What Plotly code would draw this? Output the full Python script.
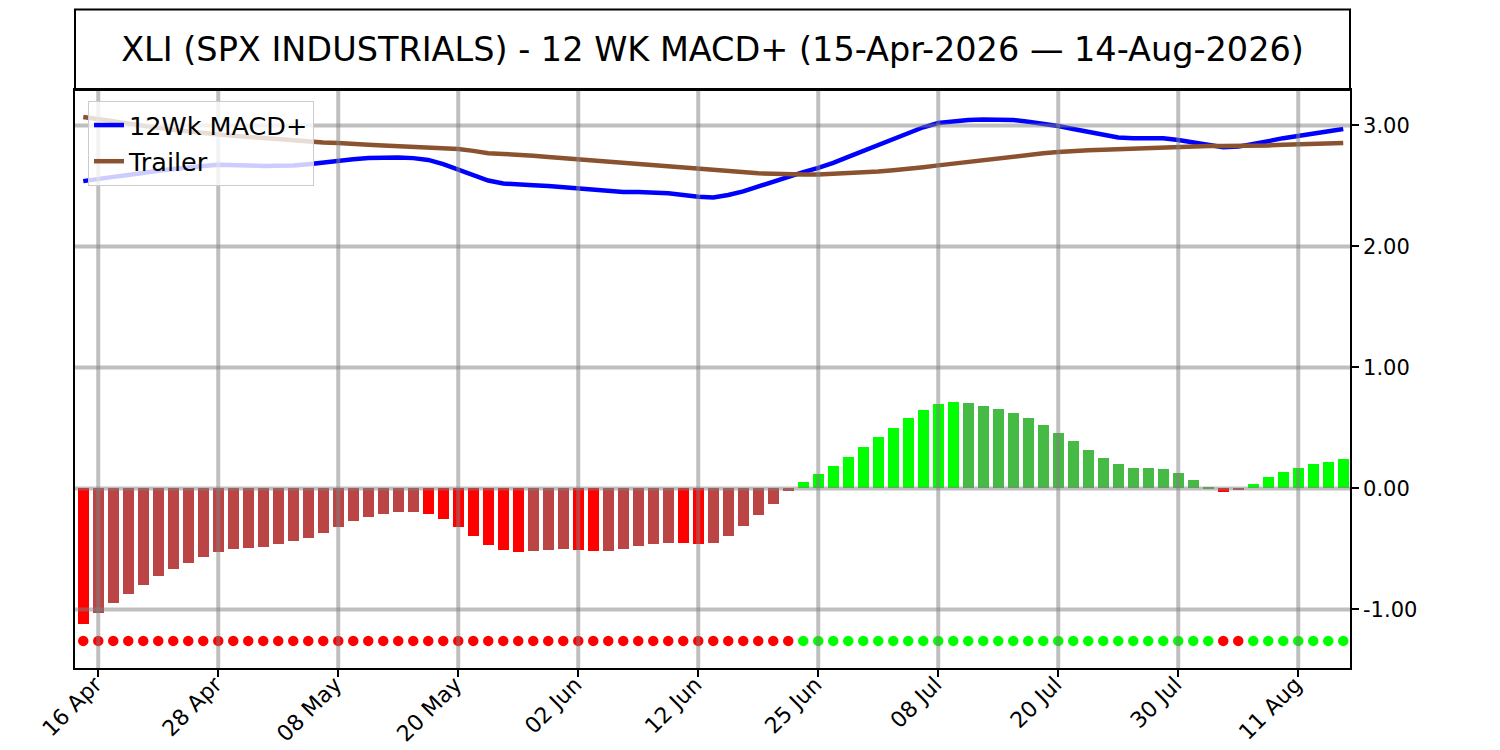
import pandas as pd
import plotly.graph_objects as go

# === Dados === #
# pregões de 15-Apr-2026 a 14-Aug-2026 (sem feriados dos EUA)
feriados = ["2026-05-25", "2026-06-19", "2026-07-03"]
datas = [d for d in pd.bdate_range("2026-04-15", "2026-08-14") if d.strftime("%Y-%m-%d") not in feriados]

macd = [
    2.54, 2.56, 2.575, 2.59, 2.61, 2.625, 2.64, 2.655, 2.665, 2.675,
    2.675, 2.67, 2.665, 2.665, 2.67, 2.68, 2.695, 2.71, 2.72, 2.73,
    2.735, 2.735, 2.73, 2.715, 2.68, 2.635, 2.585, 2.545, 2.52, 2.51,
    2.505, 2.50, 2.49, 2.48, 2.465, 2.455, 2.45, 2.45, 2.448, 2.44,
    2.425, 2.41, 2.405, 2.425, 2.455, 2.495, 2.54, 2.58, 2.615, 2.65,
    2.69, 2.74, 2.79, 2.84, 2.89, 2.94, 2.985, 3.02, 3.035, 3.045,
    3.05, 3.05, 3.045, 3.03, 3.015, 2.995, 2.97, 2.945, 2.92, 2.90,
    2.895, 2.895, 2.895, 2.88, 2.86, 2.835, 2.82, 2.825, 2.845, 2.87,
    2.895, 2.915, 2.93, 2.95, 2.97,
]

trailer = [
    3.07, 3.055, 3.035, 3.015, 2.995, 2.98, 2.965, 2.95, 2.935, 2.925,
    2.915, 2.905, 2.895, 2.885, 2.875, 2.865, 2.86, 2.855, 2.845, 2.84,
    2.835, 2.83, 2.825, 2.82, 2.815, 2.805, 2.79, 2.77, 2.765, 2.76,
    2.75, 2.74, 2.73, 2.72, 2.71, 2.70, 2.69, 2.68, 2.67, 2.66,
    2.65, 2.64, 2.63, 2.62, 2.61, 2.605, 2.60, 2.595, 2.595, 2.595,
    2.60, 2.605, 2.61, 2.62, 2.63, 2.64, 2.655, 2.67, 2.685, 2.70,
    2.715, 2.73, 2.745, 2.76, 2.77, 2.78, 2.79, 2.795, 2.80, 2.805,
    2.81, 2.815, 2.82, 2.825, 2.83, 2.83, 2.83, 2.83, 2.835, 2.835,
    2.84, 2.845, 2.85, 2.85, 2.855,
]

histograma = [
    -1.124, -1.03, -0.948, -0.873, -0.799, -0.725, -0.667, -0.617, -0.568, -0.526,
    -0.501, -0.493, -0.485, -0.460, -0.435, -0.411, -0.369, -0.320, -0.270, -0.237,
    -0.212, -0.197, -0.195, -0.212, -0.253, -0.320, -0.394, -0.468, -0.510, -0.526,
    -0.518, -0.510, -0.501, -0.510, -0.520, -0.516, -0.501, -0.477, -0.460, -0.452,
    -0.455, -0.460, -0.452, -0.394, -0.311, -0.220, -0.129, -0.025, 0.055, 0.121,
    0.188, 0.262, 0.345, 0.427, 0.502, 0.584, 0.650, 0.700, 0.717, 0.708,
    0.683, 0.659, 0.626, 0.584, 0.526, 0.460, 0.394, 0.320, 0.254, 0.204,
    0.171, 0.169, 0.163, 0.130, 0.072, 0.012, -0.033, -0.014, 0.039, 0.097,
    0.138, 0.171, 0.204, 0.221, 0.245,
]

yticks = [-1, 0, 1, 2, 3]
nivel_pontos = -1.26  # linha de sinais

# === Cores === #
x = list(range(len(datas)))
cores_barras = []
for i, v in enumerate(histograma):
    anterior = histograma[i - 1] if i > 0 else None
    if v < 0:
        forte = anterior is None or v < anterior
        cores_barras.append("#ff0000" if forte else "#bb4545")
    else:
        forte = anterior is None or v > anterior
        cores_barras.append("#00ff00" if forte else "#45bb45")
cores_pontos = ["#ff0000" if v < 0 else "#00ff00" for v in histograma]

xticks = list(range(1, len(datas), 8))
xtext = [datas[i].strftime("%d %b") for i in xticks]
ytext = ["%.2f" % v for v in yticks]  # hífen normal, não o sinal de menos unicode

titulo = "XLI (SPX INDUSTRIALS) - 12 WK MACD+ (%s \u2014 %s)" % (
    datas[0].strftime("%d-%b-%Y"),
    datas[-1].strftime("%d-%b-%Y"),
)

# === Plot === #
fig = go.Figure()

fig.add_trace(
    go.Bar(
        x=x,
        y=histograma,
        width=0.7,
        marker=dict(color=cores_barras, line=dict(width=0)),
        showlegend=False,
    )
)

fig.add_trace(
    go.Scatter(
        x=x,
        y=[nivel_pontos] * len(x),
        mode="markers",
        marker=dict(color=cores_pontos, size=10.5),
        showlegend=False,
    )
)

fig.add_trace(
    go.Scatter(x=x, y=macd, mode="lines", name="12Wk MACD+", line=dict(color="#0000ff", width=4.5))
)
fig.add_trace(
    go.Scatter(x=x, y=trailer, mode="lines", name="Trailer", line=dict(color="#8b5230", width=4.5))
)

# grade por cima das barras (como no matplotlib)
grade = "rgba(128,128,128,0.5)"
for xv in xticks:
    fig.add_shape(
        type="line", xref="x", yref="y domain", x0=xv, x1=xv, y0=0, y1=1,
        line=dict(color=grade, width=4), layer="above",
    )
for yv in yticks:
    fig.add_shape(
        type="line", xref="x domain", yref="y", x0=0, x1=1, y0=yv, y1=yv,
        line=dict(color=grade, width=4), layer="above",
    )

# caixa do título
fig.add_shape(
    type="rect", xref="paper", yref="paper", x0=0, x1=1, y0=1, y1=1.1393,
    line=dict(color="black", width=2), fillcolor="rgba(0,0,0,0)",
)

# a página tem 8px de margem no body -> figura um pouco menor
W, H = 1492, 742

fig.update_layout(
    title=dict(
        text=titulo,
        x=0.5,
        xref="paper",
        xanchor="center",
        y=1 - 41 / H,
        yref="container",
        yanchor="middle",
        font=dict(size=33.5, color="black"),
    ),
    xaxis=dict(
        range=[-0.55, 84.45],
        tickvals=xticks,
        ticktext=xtext,
        tickangle=-45,
        ticks="outside",
        ticklen=7,
        tickwidth=1.7,
        tickcolor="black",
        ticklabelstandoff=-14,
        ticklabelshift=-3,
        showgrid=False,
        zeroline=False,
        showline=True,
        linecolor="black",
        linewidth=1.7,
        mirror=True,
        automargin=False,
        tickfont=dict(size=22, color="black"),
    ),
    yaxis=dict(
        range=[-1.484, 3.293],
        side="right",
        tickvals=yticks,
        ticktext=ytext,
        ticks="outside",
        ticklen=7,
        tickwidth=1.7,
        tickcolor="black",
        showgrid=False,
        zeroline=False,
        showline=True,
        linecolor="black",
        linewidth=1.7,
        mirror=True,
        automargin=False,
        tickfont=dict(size=21, color="black"),
    ),
    showlegend=True,
    legend=dict(
        x=0.0102,
        y=0.981,
        xanchor="left",
        yanchor="top",
        bgcolor="rgba(255,255,255,0.8)",
        bordercolor="#cccccc",
        borderwidth=1,
        itemwidth=30,
        font=dict(size=25.5, color="black"),
    ),
    font=dict(family="DejaVu Sans"),
    bargap=0,
    plot_bgcolor="white",
    paper_bgcolor="white",
    width=W,
    height=H,
    margin=dict(l=67, r=150, t=82, b=82),
)

fig.write_html("out.html")
